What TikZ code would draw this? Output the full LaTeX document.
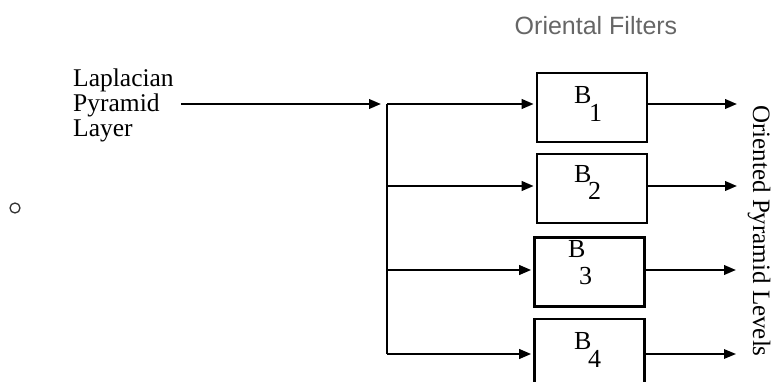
\documentclass[tikz,border=0pt]{standalone}
\usepackage{fontspec}
\setmainfont{Liberation Serif}
\newfontfamily\headfont{Liberation Sans}
\usetikzlibrary{arrows.meta}
\begin{document}
\begin{tikzpicture}[x=1pt,y=-1pt,
  conn/.style={line width=2.3pt},
  arr/.style={conn,-{Triangle[length=12pt,width=9.5pt]}},
  filterbox/.style={draw,line width=2.6pt,minimum width=110pt,minimum height=69pt,inner sep=0pt},
  btext/.style={anchor=base west,inner sep=0pt,font=\fontsize{26}{26}\selectfont},
  lbl/.style={inner sep=0pt,font=\fontsize{25.5}{25}\selectfont}
]
\useasboundingbox (0,0) rectangle (772,382);
% title
\node[inner sep=0pt,anchor=base,font=\headfont\fontsize{25}{25}\selectfont,text=black!60] (title) at (596,35) {Oriental Filters};
% small circle
\node[draw=black!80,line width=1.3pt,circle,minimum size=10pt,inner sep=0pt] (dot) at (15,208) {};
% input label
\node[lbl,align=left,anchor=north west] (lap) at (73,69) {Laplacian\\Pyramid\\Layer};
% coordinates
\coordinate (cin) at (381,104);
\coordinate (j1) at (387,104);
\coordinate (j2) at (387,186);
\coordinate (j3) at (387,270);
\coordinate (j4) at (387,354);
\coordinate (o1) at (737,104);
\coordinate (o2) at (737,186);
\coordinate (o3) at (736,270);
\coordinate (o4) at (736,354);
% boxes
\node[filterbox] (B1) at (592,107.5) {};
\node[filterbox] (B2) at (592,188.5) {};
\node[filterbox] (B3) at (589.5,272) {};
\node[filterbox] (B4) at (589.5,353.5) {};
% box texts
\node[btext] (t1a) at (574,104) {B};
\node[btext] (t1b) at (589,122) {1};
\node[btext] (t2a) at (574,183) {B};
\node[btext] (t2b) at (588,200) {2};
\node[btext] (t3a) at (568,258) {B};
\node[btext] (t3b) at (579,285) {3};
\node[btext] (t4a) at (574,350) {B};
\node[btext] (t4b) at (588,368) {4};
% output label
\node[rotate=-90,anchor=base,inner sep=0pt,font=\fontsize{25}{25}\selectfont] (lev) at (753,231) {Oriented Pyramid Levels};
% connectors
\draw[arr,shorten <=7pt] (lap.east |- cin) -- (cin);
\draw[conn] (j1) -- (j4);
\draw[arr,shorten >=2pt] (j1) -- (B1.west |- j1);
\draw[arr,shorten >=2pt] (j2) -- (B2.west |- j2);
\draw[arr,shorten >=2pt] (j3) -- (B3.west |- j3);
\draw[arr,shorten >=2pt] (j4) -- (B4.west |- j4);
\draw[arr] (B1.east |- o1) -- (o1);
\draw[arr] (B2.east |- o2) -- (o2);
\draw[arr] (B3.east |- o3) -- (o3);
\draw[arr,line width=1.5pt] (B4.east |- o4) -- (o4);
\end{tikzpicture}
\end{document}
